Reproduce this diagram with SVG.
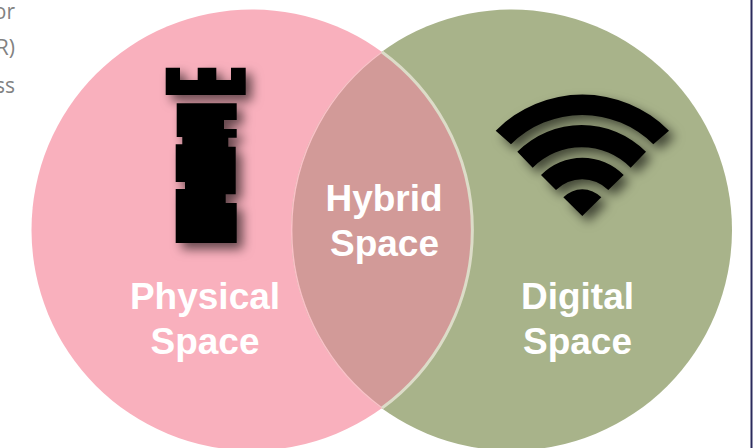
<svg xmlns="http://www.w3.org/2000/svg" width="753" height="448" viewBox="0 0 753 448">
<defs>
<style>
.cap{font-family:"Liberation Sans",Arial,sans-serif;font-weight:700;font-size:37px;fill:#fff;text-anchor:middle}
.side{font-family:"Open Sans",sans-serif;font-size:21px;fill:#828282;text-anchor:end}
.icon{fill:#000;filter:url(#sh)}
</style>
<filter id="sh" x="-30%" y="-30%" width="170%" height="170%">
<feDropShadow dx="6" dy="6" stdDeviation="5.5" flood-color="#000" flood-opacity="0.6"/>
</filter>
</defs>
<rect width="753" height="448" fill="#fff"/>
<rect x="750.5" y="0" width="2" height="448" fill="#2b2a5c"/>
<g id="side-text">
<text class="side" x="15" y="18.5">or</text>
<text class="side" x="15" y="55">R)</text>
<text class="side" x="15" y="93">ss</text>
</g>
<g id="physical">
<circle cx="252" cy="230" r="220.5" fill="#f9b0bd"/>
<g class="icon">
<path d="M165.7 67.7H180V80H197.7V67.7H216.3V80H231V67.7H245.7V95H165.7Z"/>
<path d="M176.7 103.3H236.7V120H224V129H236.7V137.7H228.3V146.7H235.7V194.3H225.7V203H236.7V243H175.7V189H185V182H175.7V144.3H182.3V137H176.7Z"/>
</g>
<text class="cap" x="205" y="309">Physical</text>
<text class="cap" x="205" y="354">Space</text>
</g>
<g id="digital">
<circle cx="511.5" cy="230" r="220.5" fill="#a8b38a"/>
<g class="icon">
<path d="M495.7 130.7A122 122 0 0 1 669 130.7L653.3 144.3A101 101 0 0 0 511 144.3Z"/>
<path d="M517.3 151.7A91 91 0 0 1 646 151.7L630.7 167.7A69 69 0 0 0 532.7 167.7Z"/>
<path d="M541 175A58 58 0 0 1 623.7 175L608.3 190A37 37 0 0 0 556 190Z"/>
<path d="M563.3 197.3A26.6 26.6 0 0 1 601.3 197.3L582.3 216Z"/>
</g>
<text class="cap" x="577.5" y="309">Digital</text>
<text class="cap" x="577.5" y="354">Space</text>
</g>
<g id="hybrid">
<path d="M382 52A220.5 220.5 0 0 1 382 408A220.5 220.5 0 0 1 382 52Z" fill="#d29a98"/>
<path d="M382 52A220.5 220.5 0 0 0 382 408" fill="none" stroke="#fbc0c8" stroke-width="1.5"/>
<path d="M382 52A220.5 220.5 0 0 1 382 408" fill="none" stroke="#dcdcc8" stroke-width="3"/>
<text class="cap" x="384" y="211">Hybrid</text>
<text class="cap" x="384.5" y="256">Space</text>
</g>
<g id="connectors"/>
</svg>
